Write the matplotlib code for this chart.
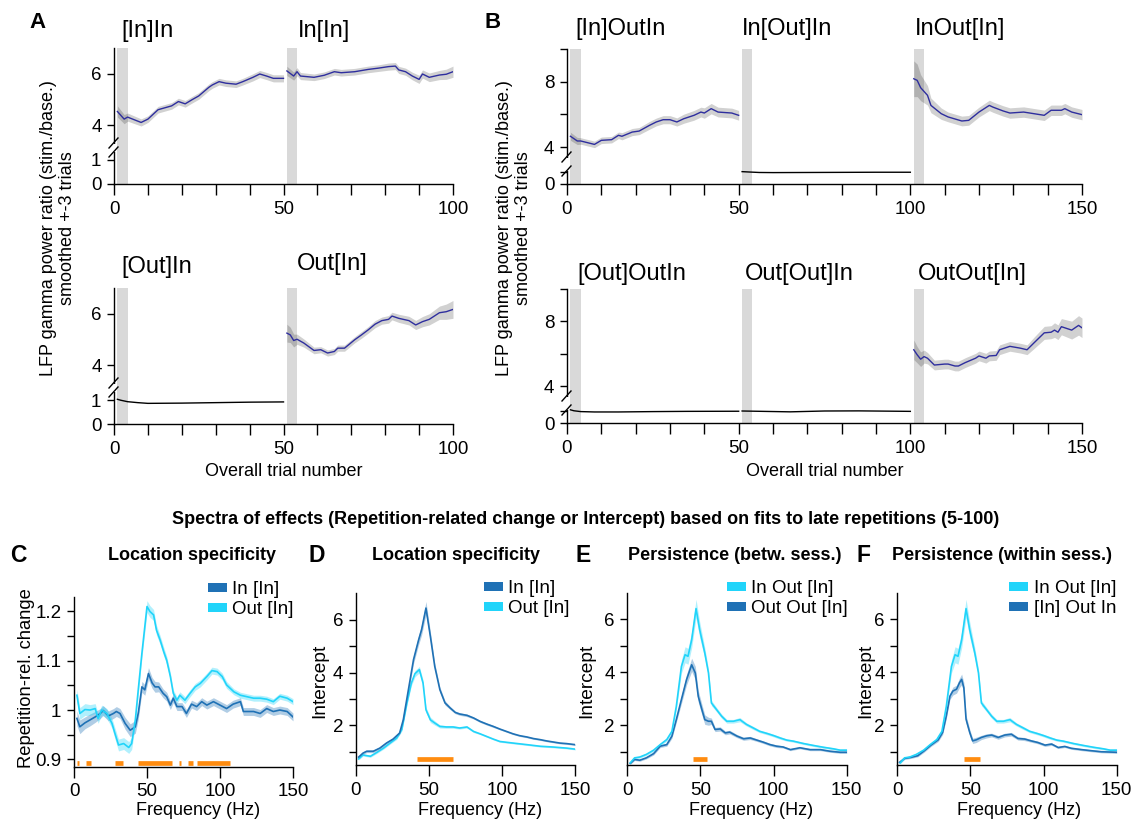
import numpy as np
import matplotlib
matplotlib.use('Agg')
import matplotlib.pyplot as plt
from matplotlib.patches import Patch
from matplotlib.lines import Line2D
from matplotlib.ticker import NullLocator
from matplotlib.transforms import IdentityTransform

plt.rcParams['font.family'] = ['Liberation Sans', 'DejaVu Sans']

# ---------------- DATA: trial panels (A, B) ----------------
A_labels_top = ["[In]In", "In[In]"]
A_labels_bot = ["[Out]In", "Out[In]"]
B_labels_top = ["[In]OutIn", "In[Out]In", "InOut[In]"]
B_labels_bot = ["[Out]OutIn", "Out[Out]In", "OutOut[In]"]

# A top: [In]In
a1_t = [1, 3, 4, 8, 10, 13, 17, 19, 21, 23, 25, 28, 29, 31, 33, 36, 38, 41, 43, 45, 47, 50]
a1_v = [4.53, 4.23, 4.31, 4.10, 4.23, 4.60, 4.75, 4.92, 4.83, 4.99, 5.14, 5.48, 5.57, 5.70, 5.64,
        5.60, 5.70, 5.87, 6.00, 5.92, 5.83, 5.83]
a1_e = [0.22, 0.18, 0.16, 0.14, 0.13, 0.13, 0.13, 0.13, 0.13, 0.13, 0.13, 0.13, 0.13, 0.13, 0.13,
        0.13, 0.13, 0.14, 0.14, 0.14, 0.14, 0.14]
# A top: In[In]
a2_t = [51, 53, 54, 55, 59, 62, 65, 67, 71, 75, 78, 81, 83, 84, 86, 88, 90, 91, 93, 96, 98, 100]
a2_v = [6.12, 5.92, 6.09, 5.92, 5.87, 5.95, 6.09, 6.05, 6.09, 6.18, 6.23, 6.29, 6.31, 6.16, 6.09,
        5.92, 5.79, 6.00, 5.87, 5.96, 5.99, 6.09]
a2_e = [0.18, 0.16, 0.16, 0.14, 0.13, 0.13, 0.13, 0.13, 0.13, 0.13, 0.13, 0.14, 0.14, 0.14, 0.14,
        0.15, 0.16, 0.16, 0.17, 0.18, 0.20, 0.22]
# A bottom: [Out]In (black)
a3_t = [1, 2, 4, 7, 10, 20, 30, 40, 50]
a3_v = [1.03, 0.99, 0.93, 0.89, 0.86, 0.87, 0.89, 0.91, 0.92]
# A bottom: Out[In]
a4_t = [51, 52, 53, 54, 56, 59, 61, 63, 65, 66, 68, 71, 73, 75, 77, 79, 81, 82, 84, 87, 89, 91, 93,
        96, 98, 100]
a4_v = [5.25, 5.18, 4.96, 5.01, 4.86, 4.57, 4.60, 4.47, 4.53, 4.66, 4.66, 4.99, 5.18, 5.38, 5.60,
        5.74, 5.79, 5.92, 5.83, 5.74, 5.57, 5.70, 5.79, 6.05, 6.09, 6.18]
a4_e = [0.35, 0.30, 0.25, 0.20, 0.16, 0.13, 0.12, 0.12, 0.12, 0.12, 0.12, 0.12, 0.13, 0.13, 0.14,
        0.14, 0.15, 0.15, 0.16, 0.17, 0.18, 0.20, 0.22, 0.26, 0.30, 0.35]

# B top: [In]OutIn
b1_t = [1, 3, 4, 8, 10, 13, 15, 16, 19, 21, 24, 26, 28, 30, 32, 34, 37, 39, 40, 42, 44, 48, 50]
b1_v = [4.66, 4.37, 4.37, 4.16, 4.41, 4.45, 4.72, 4.66, 4.92, 4.98, 5.33, 5.54, 5.68, 5.68, 5.54,
        5.74, 5.95, 6.15, 6.09, 6.36, 6.15, 6.09, 5.95]
b1_e = [0.25, 0.22, 0.20, 0.20, 0.20, 0.20, 0.20, 0.22, 0.22, 0.22, 0.24, 0.24, 0.25, 0.25, 0.25,
        0.28, 0.30, 0.30, 0.32, 0.32, 0.30, 0.30, 0.30]
# B top: In[Out]In (black)
b2_t = [51, 53, 56, 60, 70, 80, 90, 100]
b2_v = [1.03, 1.00, 0.96, 0.95, 0.96, 0.97, 0.98, 0.98]
# B top: InOut[In]
b3_t = [101, 102, 103, 105, 106, 109, 111, 115, 117, 120, 123, 124, 127, 129, 133, 136, 139, 141,
        144, 145, 147, 150]
b3_v = [8.20, 8.10, 7.65, 7.18, 6.56, 6.05, 5.85, 5.60, 5.64, 6.15, 6.56, 6.46, 6.22, 6.09, 6.15,
        6.05, 5.95, 6.26, 6.26, 6.36, 6.15, 5.99]
b3_e = [1.10, 1.00, 0.80, 0.60, 0.45, 0.35, 0.30, 0.30, 0.30, 0.30, 0.32, 0.32, 0.32, 0.32, 0.32,
        0.32, 0.32, 0.32, 0.32, 0.32, 0.32, 0.32]
# B bottom: [Out]OutIn, Out[Out]In (black)
b4_t = [1, 2, 4, 8, 15, 25, 35, 50]
b4_v = [1.10, 1.02, 0.95, 0.92, 0.92, 0.95, 0.97, 0.98]
b5_t = [51, 55, 65, 75, 85, 100]
b5_v = [1.00, 0.98, 0.93, 1.00, 1.01, 0.97]
# B bottom: OutOut[In]
b6_t = [101, 102, 103, 104, 105, 107, 110, 111, 113, 114, 116, 119, 120, 122, 123, 125, 126, 129,
        132, 134, 136, 139, 141, 142, 143, 144, 147, 149, 150]
b6_v = [6.23, 5.92, 5.65, 5.81, 5.71, 5.29, 5.35, 5.35, 5.23, 5.23, 5.44, 5.71, 5.85, 5.71, 5.85,
        5.88, 6.23, 6.44, 6.33, 6.23, 6.65, 7.27, 7.31, 7.44, 7.31, 7.65, 7.44, 7.73, 7.58]
b6_e = [0.60, 0.50, 0.45, 0.40, 0.35, 0.30, 0.30, 0.30, 0.30, 0.30, 0.30, 0.30, 0.30, 0.30, 0.30,
        0.30, 0.30, 0.30, 0.30, 0.30, 0.35, 0.40, 0.40, 0.45, 0.45, 0.50, 0.55, 0.60, 0.60]

session_starts_A = [1, 51]
session_starts_B = [1, 51, 101]

# ---------------- DATA: spectra (C-F) ----------------
c_in_f = [2, 4, 7.5, 11, 14.5, 18, 20, 23.5, 27, 29, 31.5, 35, 38.5, 42, 44, 46.5, 48.5, 51, 53.5,
          55.5, 58, 61, 63.5, 66, 68, 70.5, 74, 77, 80.5, 84, 87.5, 91, 95.5, 100, 104.5, 109, 114,
          116, 123, 127.5, 132, 136.5, 141, 146, 150]
c_in_v = [0.983, 0.966, 0.974, 0.980, 0.986, 0.993, 0.999, 0.988, 0.993, 0.997, 0.993, 0.973, 0.959,
          0.966, 0.993, 1.047, 1.041, 1.074, 1.055, 1.047, 1.047, 1.034, 1.027, 1.010, 1.024, 1.007,
          1.007, 0.993, 1.012, 1.007, 1.017, 1.010, 1.017, 1.010, 1.003, 1.012, 1.017, 0.997, 0.997,
          0.993, 1.003, 0.997, 1.000, 0.997, 0.986]
c_in_e = [0.015, 0.014, 0.012, 0.012, 0.011, 0.010, 0.010, 0.010, 0.010, 0.010, 0.010, 0.012, 0.013,
          0.013, 0.012, 0.011, 0.011, 0.012, 0.011, 0.011, 0.010, 0.009, 0.009, 0.009, 0.009, 0.008,
          0.008, 0.008, 0.008, 0.008, 0.008, 0.008, 0.008, 0.008, 0.008, 0.008, 0.008, 0.008, 0.008,
          0.008, 0.008, 0.008, 0.008, 0.008, 0.008]
c_out_f = [2, 4, 7.5, 11, 14.5, 16.5, 19, 22.5, 26, 28, 30.5, 34, 37.5, 39.5, 42, 44, 46.5, 50, 52,
           54.5, 56.5, 59, 61.5, 63.5, 66, 68, 70.5, 72.5, 76, 79.5, 83, 86.5, 91, 94.5, 98, 101.5,
           104.5, 109.5, 114, 118.5, 123, 127.5, 132, 136.5, 141, 146, 150]
c_out_v = [1.030, 0.993, 1.001, 1.000, 1.003, 0.983, 1.000, 0.993, 0.973, 0.953, 0.929, 0.932, 0.924,
           0.932, 0.980, 1.041, 1.115, 1.210, 1.200, 1.193, 1.162, 1.142, 1.118, 1.101, 1.068, 1.034,
           1.020, 1.030, 1.020, 1.034, 1.047, 1.054, 1.068, 1.080, 1.078, 1.068, 1.051, 1.037, 1.030,
           1.027, 1.024, 1.024, 1.022, 1.017, 1.028, 1.024, 1.017]
c_out_e = [0.012, 0.012, 0.012, 0.011, 0.010, 0.010, 0.010, 0.010, 0.010, 0.011, 0.012, 0.012, 0.012,
           0.012, 0.011, 0.010, 0.010, 0.012, 0.012, 0.011, 0.010, 0.009, 0.009, 0.008, 0.008, 0.007,
           0.007, 0.007, 0.007, 0.007, 0.007, 0.007, 0.007, 0.007, 0.007, 0.007, 0.007, 0.006, 0.006,
           0.006, 0.006, 0.006, 0.006, 0.006, 0.006, 0.006, 0.006]
c_sig_start = [1.8, 8.2, 28, 44, 71.8, 78, 84]
c_sig_end = [3.2, 11.4, 33.4, 67, 73.2, 81.4, 107]

d_in_f = [2, 5, 7.5, 12, 16.5, 21, 25.5, 30, 32.5, 36, 39.5, 43, 45, 48, 51, 54, 57.5, 61, 64.5, 68,
          71, 76, 80.5, 85, 89.5, 94, 98.5, 103, 107.5, 112, 117, 121.5, 126, 130.5, 135, 139.5,
          144, 150]
d_in_v = [0.80, 0.95, 1.02, 1.02, 1.14, 1.33, 1.48, 1.71, 2.21, 3.35, 4.49, 5.24, 5.62, 6.44, 5.37,
          4.23, 3.35, 2.85, 2.66, 2.49, 2.43, 2.38, 2.28, 2.15, 2.05, 1.96, 1.86, 1.77, 1.68, 1.61,
          1.56, 1.50, 1.46, 1.41, 1.37, 1.33, 1.31, 1.27]
d_in_e = [0.05, 0.05, 0.05, 0.05, 0.05, 0.05, 0.05, 0.05, 0.08, 0.12, 0.15, 0.18, 0.20, 0.25, 0.18,
          0.12, 0.10, 0.08, 0.06, 0.05, 0.05, 0.05, 0.04, 0.04, 0.04, 0.04, 0.03, 0.03, 0.03, 0.03,
          0.03, 0.03, 0.03, 0.03, 0.03, 0.03, 0.03, 0.03]
d_out_f = [2, 5, 10, 14.5, 19, 23.5, 28, 31.5, 35, 38, 40.5, 43.5, 46, 48, 51, 54, 57.5, 62, 66.5,
           71, 76, 80.5, 85, 89.5, 94, 98.5, 107.5, 117, 126, 135, 144, 150]
d_out_v = [0.73, 0.88, 0.83, 0.98, 1.14, 1.33, 1.52, 1.84, 2.85, 3.60, 3.96, 4.11, 3.60, 2.59, 2.21,
           2.09, 1.96, 1.94, 1.94, 1.90, 1.94, 1.77, 1.68, 1.58, 1.48, 1.39, 1.33, 1.27, 1.21, 1.18,
           1.14, 1.10]
d_out_e = [0.04, 0.04, 0.04, 0.04, 0.04, 0.04, 0.05, 0.06, 0.08, 0.10, 0.12, 0.12, 0.12, 0.10, 0.10,
           0.08, 0.06, 0.05, 0.05, 0.04, 0.04, 0.04, 0.03, 0.03, 0.03, 0.03, 0.03, 0.03, 0.03, 0.03,
           0.03, 0.03]
d_sig_start = [41.7]
d_sig_end = [66.2]

inout_f = [2, 5, 8.5, 13, 18, 22.5, 27, 30.5, 33.5, 37, 39.5, 41.5, 44, 47, 49.5, 53, 55.5, 57.5, 61,
           64.5, 68, 72.5, 77, 81.5, 86, 90.5, 95.5, 100, 104.5, 109, 113.5, 120.5, 127, 134, 141,
           145.5, 150]
inout_v = [0.58, 0.77, 0.80, 0.90, 1.06, 1.27, 1.46, 1.77, 2.71, 4.22, 4.66, 4.60, 5.22, 6.40, 5.60,
           4.72, 3.97, 2.84, 2.59, 2.34, 2.15, 2.15, 2.21, 2.03, 1.90, 1.77, 1.69, 1.61, 1.52, 1.44,
           1.40, 1.31, 1.24, 1.17, 1.11, 1.06, 1.06]
inout_e = [0.04, 0.04, 0.04, 0.04, 0.05, 0.05, 0.06, 0.08, 0.12, 0.25, 0.30, 0.30, 0.30, 0.35, 0.30,
           0.20, 0.15, 0.10, 0.08, 0.08, 0.07, 0.07, 0.08, 0.06, 0.06, 0.05, 0.05, 0.05, 0.05, 0.04,
           0.04, 0.04, 0.04, 0.04, 0.04, 0.04, 0.04]
e_out_f = [2, 5, 8.5, 13, 18, 22.5, 27, 30.5, 33.5, 37, 40.5, 44, 46.5, 48.5, 51, 53, 55.5, 57.5, 60,
           63.5, 67, 70, 75, 79.5, 84, 88.5, 93, 97.5, 102, 106.5, 111.5, 118, 125, 132, 138.5,
           145.5, 150]
e_out_v = [0.56, 0.71, 0.68, 0.77, 0.93, 1.21, 1.27, 1.59, 2.21, 2.97, 3.72, 4.28, 3.97, 3.09, 2.59,
           2.21, 2.15, 2.15, 1.84, 1.86, 1.71, 1.74, 1.59, 1.49, 1.52, 1.44, 1.36, 1.27, 1.21, 1.18,
           1.08, 1.15, 1.08, 1.08, 1.02, 0.98, 0.98]
e_out_e = [0.04, 0.04, 0.04, 0.04, 0.05, 0.05, 0.06, 0.08, 0.10, 0.15, 0.20, 0.25, 0.25, 0.22, 0.20,
           0.18, 0.15, 0.12, 0.08, 0.08, 0.07, 0.07, 0.06, 0.06, 0.06, 0.05, 0.05, 0.05, 0.05, 0.04,
           0.04, 0.04, 0.04, 0.04, 0.04, 0.04, 0.04]
e_sig_start = [45.1]
e_sig_end = [54.2]

f_in_f = [1.5, 5, 9.5, 14, 18.5, 23, 28, 31, 33.5, 36, 38, 40.5, 42.5, 44, 45.5, 47, 49.5, 51.5, 54,
          57.5, 61, 64.5, 69, 73.5, 78, 82.5, 87, 91.5, 96, 101, 105.5, 110, 114.5, 119, 126, 132.5,
          139.5, 150]
f_in_v = [0.60, 0.75, 0.79, 0.85, 1.04, 1.25, 1.45, 1.73, 2.35, 3.10, 3.29, 3.36, 3.60, 3.73, 3.41,
          2.23, 1.73, 1.41, 1.45, 1.54, 1.60, 1.63, 1.54, 1.63, 1.66, 1.50, 1.48, 1.41, 1.35, 1.25,
          1.29, 1.16, 1.20, 1.13, 1.08, 1.04, 1.00, 0.98]
f_in_e = [0.04, 0.04, 0.04, 0.04, 0.05, 0.05, 0.06, 0.08, 0.10, 0.12, 0.15, 0.15, 0.18, 0.20, 0.20,
          0.15, 0.12, 0.10, 0.10, 0.08, 0.08, 0.07, 0.07, 0.07, 0.07, 0.06, 0.06, 0.05, 0.05, 0.05,
          0.05, 0.04, 0.04, 0.04, 0.04, 0.04, 0.04, 0.04]
f_sig_start = [45.6]
f_sig_end = [56.5]

# ---------------- STYLE ----------------
NAVY = '#2e2e9e'
DARK = '#1f71b5'
CYAN = '#21d4fa'
ORANGE = '#ff8c10'
BAR = '#d9d9d9'

W, H = 1138, 821
fig = plt.figure(figsize=(W / 100, H / 100), dpi=100)


def px_axes(left, right, bottom, top):
    return fig.add_axes([left / W, 1 - bottom / H, (right - left) / W, (bottom - top) / H])


def ftext(x, y, s, **kw):
    fig.text(x / W, 1 - y / H, s, **kw)


def broken_scale(s1, c, d, pd, s2):
    xv = np.array([-1000.0, 0.0, c, d, 1000.0])
    pv = np.array([-1000.0 * s1, 0.0, c * s1, pd, pd + (1000.0 - d) * s2])

    def fwd(v):
        return np.interp(np.asarray(v, dtype=float), xv, pv)

    def inv(p):
        return np.interp(np.asarray(p, dtype=float), pv, xv)
    return fwd, inv


def style_trial(ax, xmax, ytop, yticks, ylabels, scale):
    ax.set_yscale('function', functions=scale)
    ax.set_xlim(0, xmax)
    ax.set_ylim(0, ytop)
    ax.spines[['top', 'right']].set_visible(False)
    ticks = list(range(0, xmax + 1, 10))
    ax.set_xticks(ticks)
    ax.set_xticklabels([str(t) if t % 50 == 0 else '' for t in ticks])
    ax.set_yticks(yticks)
    ax.set_yticklabels(ylabels)
    ax.yaxis.set_minor_locator(NullLocator())
    ax.xaxis.set_minor_locator(NullLocator())
    ax.tick_params(axis='x', length=8, width=1, pad=4, labelsize=13.5)
    ax.tick_params(axis='y', length=5, width=1, pad=4, labelsize=13.5)
    for s in ax.spines.values():
        s.set_linewidth(1)


def break_marks(ax, p_list):
    x0, yb = ax.transAxes.transform((0, 0))
    ys = [yb + p for p in p_list]
    fig.add_artist(Line2D([x0, x0], [ys[0] + 2, ys[1] - 2], color='white', lw=2.2,
                          transform=IdentityTransform(), zorder=5))
    for y in ys:
        fig.add_artist(Line2D([x0 - 5, x0 + 4], [y - 5, y + 5], color='black', lw=1,
                              transform=IdentityTransform(), zorder=6))


def session(ax, t, v, e=None, color=NAVY):
    t = np.asarray(t)
    v = np.asarray(v)
    if e is not None:
        e = np.asarray(e)
        ax.fill_between(t, v - e, v + e, color='black', alpha=0.18, lw=0, zorder=2)
    ax.plot(t, v, color=color, lw=1.0, zorder=3)


scaleA = broken_scale(24.0, 1.3, 3.6, 48.8, 25.5)
scaleB = broken_scale(12.0, 1.3, 3.6, 30.5, 16.25)

# ---- Panel A ----
axA1 = px_axes(114, 453, 184, 48.5)
axA2 = px_axes(114, 453, 424, 288.5)
for ax in (axA1, axA2):
    style_trial(ax, 100, 7, [0, 1, 4, 6], ['0', '1', '4', '6'], scaleA)
    for s in session_starts_A:
        ax.axvspan(s, s + 3, color=BAR, lw=0, zorder=1)
session(axA1, a1_t, a1_v, a1_e)
session(axA1, a2_t, a2_v, a2_e)
session(axA2, a3_t, a3_v, None, color='black')
session(axA2, a4_t, a4_v, a4_e)

# ---- Panel B ----
axB1 = px_axes(567, 1082, 184, 49.5)
axB2 = px_axes(567, 1082, 423, 288.5)
for ax in (axB1, axB2):
    style_trial(ax, 150, 10, [0, 1, 4, 6, 8, 10], ['0', '', '4', '', '8', ''], scaleB)
    for s in session_starts_B:
        ax.axvspan(s, s + 3, color=BAR, lw=0, zorder=1)
session(axB1, b1_t, b1_v, b1_e)
session(axB1, b2_t, b2_v, None, color='black')
session(axB1, b3_t, b3_v, b3_e)
session(axB2, b4_t, b4_v, None, color='black')
session(axB2, b5_t, b5_v, None, color='black')
session(axB2, b6_t, b6_v, b6_e)

for ax in (axA1, axA2):
    break_marks(ax, [32, 41])
for ax in (axB1, axB2):
    break_marks(ax, [13, 27])

# session labels
LS = 17
ftext(121, 31, A_labels_top[0], fontsize=LS, ha='left', va='center')
ftext(298, 31, A_labels_top[1], fontsize=LS, ha='left', va='center')
ftext(121, 267, A_labels_bot[0], fontsize=LS, ha='left', va='center')
ftext(297, 264, A_labels_bot[1], fontsize=LS, ha='left', va='center')
ftext(575, 29, B_labels_top[0], fontsize=LS, ha='left', va='center')
ftext(742, 29, B_labels_top[1], fontsize=LS, ha='left', va='center')
ftext(915, 29, B_labels_top[2], fontsize=LS, ha='left', va='center')
ftext(577, 274, B_labels_bot[0], fontsize=LS, ha='left', va='center')
ftext(745, 274, B_labels_bot[1], fontsize=LS, ha='left', va='center')
ftext(918, 274, B_labels_bot[2], fontsize=LS, ha='left', va='center')

ylab = "LFP gamma power ratio (stim./base.)\nsmoothed +-3 trials"
ftext(58, 228, ylab, rotation=90, ha='center', va='center', fontsize=13,
      multialignment='center', linespacing=1.12)
ftext(514, 228, ylab, rotation=90, ha='center', va='center', fontsize=13,
      multialignment='center', linespacing=1.12)
ftext(283.5, 471, "Overall trial number", ha='center', va='center', fontsize=13)
ftext(824.5, 471, "Overall trial number", ha='center', va='center', fontsize=13)
ftext(37, 22, "A", ha='center', va='center', fontsize=16, fontweight='bold')
ftext(493, 22, "B", ha='center', va='center', fontsize=16, fontweight='bold')

# ---------------- spectra ----------------
ftext(586, 520, "Spectra of effects (Repetition-related change or Intercept) based on fits to "
      "late repetitions (5-100)", ha='center', va='center', fontsize=13, fontweight='bold')


def style_spec(ax, ylim, yticks, ylabels):
    ax.set_xlim(0, 150)
    ax.set_ylim(*ylim)
    ax.spines[['top', 'right']].set_visible(False)
    ax.set_xticks([0, 50, 100, 150])
    ax.set_yticks(yticks)
    ax.set_yticklabels(ylabels)
    ax.tick_params(axis='x', length=8, width=1, pad=4, labelsize=13.5)
    ax.tick_params(axis='y', length=5, width=1, pad=4, labelsize=13.5)


def spec(ax, f, v, e, color):
    f = np.asarray(f)
    v = np.asarray(v)
    e = np.asarray(e)
    ax.fill_between(f, v - e, v + e, color=color, alpha=0.35, lw=0, zorder=2)
    ax.plot(f, v, color=color, lw=1.2, zorder=3)


def sig(ax, starts, ends, y):
    for s, e in zip(starts, ends):
        ax.plot([s, e], [y, y], color=ORANGE, lw=3.4, solid_capstyle='butt', zorder=4)


def legend(ax, labels, colors, right_px, top_px):
    handles = [Patch(facecolor=c, edgecolor='none') for c in colors]
    ax.legend(handles, labels, loc='upper right', bbox_to_anchor=(right_px / W, 1 - top_px / H),
              bbox_transform=fig.transFigure, frameon=False, fontsize=13.5, handlelength=1.0,
              handleheight=0.4, handletextpad=0.3, labelspacing=0.18, borderpad=0,
              borderaxespad=0)


axC = px_axes(74, 293, 766.7, 596.7)
style_spec(axC, (0.885, 1.23), [0.9, 0.95, 1.0, 1.05, 1.1, 1.15, 1.2],
           ['0.9', '', '1', '', '1.1', '', '1.2'])
spec(axC, c_in_f, c_in_v, c_in_e, DARK)
spec(axC, c_out_f, c_out_v, c_out_e, CYAN)
sig(axC, c_sig_start, c_sig_end, 0.893)
legend(axC, ['In [In]', 'Out [In]'], [DARK, CYAN], 294, 581)

spec_yt = [1, 2, 3, 4, 5, 6]
spec_yl = ['', '2', '', '4', '', '6']
axD = px_axes(355.7, 575.3, 765, 593.3)
style_spec(axD, (0.5, 7.0), spec_yt, spec_yl)
spec(axD, d_out_f, d_out_v, d_out_e, CYAN)
spec(axD, d_in_f, d_in_v, d_in_e, DARK)
sig(axD, d_sig_start, d_sig_end, 0.73)
legend(axD, ['In [In]', 'Out [In]'], [DARK, CYAN], 570, 580)

axE = px_axes(627.3, 846.7, 765, 592.7)
style_spec(axE, (0.5, 7.0), spec_yt, spec_yl)
spec(axE, e_out_f, e_out_v, e_out_e, DARK)
spec(axE, inout_f, inout_v, inout_e, CYAN)
sig(axE, e_sig_start, e_sig_end, 0.73)
legend(axE, ['In Out [In]', 'Out Out [In]'], [CYAN, DARK], 848, 580)

axF = px_axes(897.3, 1116.7, 765, 592.7)
style_spec(axF, (0.5, 7.0), spec_yt, spec_yl)
spec(axF, f_in_f, f_in_v, f_in_e, DARK)
spec(axF, inout_f, inout_v, inout_e, CYAN)
sig(axF, f_sig_start, f_sig_end, 0.74)
legend(axF, ['In Out [In]', '[In] Out In'], [CYAN, DARK], 1116, 580)

for ax in (axC, axD, axE, axF):
    for s in ax.spines.values():
        s.set_linewidth(1)

# titles / letters / labels
TS = 13
ftext(192, 555, "Location specificity", ha='center', va='center', fontsize=TS, fontweight='bold')
ftext(456.5, 555, "Location specificity", ha='center', va='center', fontsize=TS, fontweight='bold')
ftext(735, 555, "Persistence (betw. sess.)", ha='center', va='center', fontsize=TS,
      fontweight='bold')
ftext(1002, 555, "Persistence (within sess.)", ha='center', va='center', fontsize=TS,
      fontweight='bold')
for x, lt in [(18, 'C'), (317, 'D'), (583, 'E'), (863, 'F')]:
    ftext(x, 555, lt, ha='center', va='center', fontsize=16.5, fontweight='bold')
ftext(27, 678, "Repetition-rel. change", rotation=90, ha='center', va='center', fontsize=13.2)
for x in (319.5, 587, 865.5):
    ftext(x, 681, "Intercept", rotation=90, ha='center', va='center', fontsize=13.8)
for x in (198, 480, 751, 1019.5):
    ftext(x, 810, "Frequency (Hz)", ha='center', va='center', fontsize=13)

fig.savefig('out.png', dpi=100)
